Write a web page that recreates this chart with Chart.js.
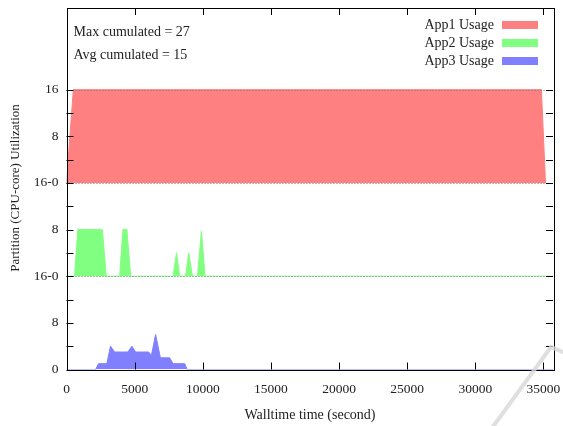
<!DOCTYPE html>
<html>
<head>
<meta charset="utf-8">
<script src="https://cdn.jsdelivr.net/npm/chart.js@4.4.1/dist/chart.umd.min.js"></script>
<style>
html,body{margin:0;padding:0;background:#fff;}
#wrap{width:563px;height:426px;position:relative;}
</style>
</head>
<body>
<div id="wrap"><canvas id="usageChart" width="563" height="426"></canvas></div>
<script>
// walltime (s) / cores used, each app stacked in its own 16-core band
const app1Time=[0, 500, 34850, 35150];
const app1Cores=[0, 16, 16, 0];
const app2Time=[0, 590, 830, 2630, 2920, 3900, 4140, 4430, 4710, 7820, 8070, 8310, 8730, 8970, 9240, 9610, 9900, 10170, 35700];
const app2Cores=[0, 0, 8, 8, 0, 0, 8, 8, 0, 0, 4, 0, 0, 4, 0, 0, 7.7, 0, 0];
const app3Time=[0, 2130, 2350, 2960, 3230, 3530, 4500, 4800, 5070, 6030, 6230, 6540, 6890, 7570, 7820, 8680, 8850, 35700];
const app3Cores=[0, 0, 1, 1, 4, 3, 3, 4, 3, 3, 2.4, 6, 2, 2, 1, 1, 0, 0];

const appLabels=['App1 Usage', 'App2 Usage', 'App3 Usage'];
const appColors=['rgb(255,128,128)', 'rgb(128,255,128)', 'rgb(128,128,255)'];
const bandOffsets=[32, 16, 0];

const xTickValues=[0, 5000, 10000, 15000, 20000, 25000, 30000, 35000];
const yTickValues=[0, 4, 8, 12, 16, 20, 24, 28, 32, 36, 40, 44, 48];
const yTickLabels=['0', '', '8', '', '16-0', '', '8', '', '16-0', '', '8', '', '16'];
const notes=['Max cumulated = 27', 'Avg cumulated = 15'];

const serif='"Liberation Serif", "DejaVu Serif", serif';
const textColor='#222';

function band(times, cores, offset) {
    return times.map((t, i)=> ({x: t, y: cores[i] + offset}));
}

const series=[
    band(app1Time, app1Cores, bandOffsets[0]),
    band(app2Time, app2Cores, bandOffsets[1]),
    band(app3Time, app3Cores, bandOffsets[2])
];

// gnuplot-like frame: inward ticks, dotted band separators, key, notes
const framePlugin={
    id: 'frame',
    afterDatasetsDraw(chart) {
        const c=chart.ctx;
        const a=chart.chartArea;
        const xs=chart.scales.x;
        const ys=chart.scales.y;
        c.save();

        c.strokeStyle='#777';
        c.lineWidth=1;
        c.setLineDash([1, 2]);
        [16, 32, 48].forEach(v=> {
            const y=Math.round(ys.getPixelForValue(v)) + 0.5;
            c.beginPath();
            c.moveTo(a.left, y);
            c.lineTo(a.right, y);
            c.stroke();
        });
        c.setLineDash([]);

        c.strokeStyle='#000';
        c.lineWidth=1;
        c.strokeRect(Math.round(a.left) + 0.5, Math.round(a.top) + 0.5, Math.round(a.right - a.left), Math.round(a.bottom - a.top));
        c.beginPath();
        xTickValues.forEach(v=> {
            const x=Math.round(xs.getPixelForValue(v)) + 0.5;
            c.moveTo(x, a.bottom);
            c.lineTo(x, a.bottom - 7);
            c.moveTo(x, a.top);
            c.lineTo(x, a.top + 7);
        });
        yTickValues.forEach(v=> {
            const y=Math.round(ys.getPixelForValue(v)) + 0.5;
            c.moveTo(a.left, y);
            c.lineTo(a.left + 7, y);
            c.moveTo(a.right, y);
            c.lineTo(a.right - 7, y);
        });
        c.stroke();

        c.fillStyle=textColor;
        c.font='14px ' + serif;
        c.textBaseline='middle';
        c.textAlign='left';
        notes.forEach((t, i)=> c.fillText(t, a.left + 7, 32 + i * 23));

        c.textAlign='right';
        appLabels.forEach((t, i)=> {
            const y=25 + i * 18;
            c.fillStyle=textColor;
            c.fillText(t, 494, y);
            c.fillStyle=appColors[i];
            c.fillRect(502, y - 4, 36, 8);
        });

        c.textAlign='center';
        c.fillStyle=textColor;
        c.fillText('Walltime time (second)', 310, 415);
        c.font='13px ' + serif;
        c.translate(16, 188);
        c.rotate(-Math.PI / 2);
        c.fillText('Partition (CPU-core) Utilization', 0, 0);
        c.restore();

        // faint scan watermark stroke
        c.save();
        c.strokeStyle='rgba(215,215,215,0.8)';
        c.lineWidth=4;
        c.lineCap='round';
        c.beginPath();
        c.moveTo(492, 428);
        c.lineTo(551, 347);
        c.lineTo(565, 353);
        c.stroke();
        c.restore();
    }
};

const ctx=document.getElementById('usageChart').getContext('2d');
const chart=new Chart(ctx, {
    type: 'line',
    data: {
        datasets: series.map((pts, i)=> ({
            label: appLabels[i],
            data: pts,
            borderColor: appColors[i],
            backgroundColor: appColors[i],
            borderWidth: 1,
            pointRadius: 0,
            tension: 0,
            fill: {value: bandOffsets[i]}
        }))
    },
    options: {
        responsive: false,
        animation: false,
        layout: {padding: {left: 4, right: 10, top: 8, bottom: 4}},
        plugins: {
            legend: {display: false},
            tooltip: {enabled: false}
        },
        scales: {
            x: {
                type: 'linear',
                min: 0,
                max: 35700,
                afterBuildTicks: (s)=> { s.ticks=xTickValues.map(v=> ({value: v})); },
                afterFit: (s)=> { s.height=52.5; s.paddingLeft=0; s.paddingRight=0; },
                grid: {display: false, drawTicks: false},
                border: {display: false},
                ticks: {
                    padding: 12,
                    maxRotation: 0,
                    autoSkip: false,
                    color: textColor,
                    font: {family: serif, size: 13.5},
                    callback: (v)=> String(v)
                }
            },
            y: {
                min: 0,
                max: 62,
                afterBuildTicks: (s)=> { s.ticks=yTickValues.map(v=> ({value: v})); },
                afterFit: (s)=> { s.width=62.5; s.paddingTop=0; s.paddingBottom=0; },
                grid: {display: false, drawTicks: false},
                border: {display: false},
                ticks: {
                    padding: 8,
                    autoSkip: false,
                    color: textColor,
                    font: {family: serif, size: 13.5},
                    callback: (v, i)=> yTickLabels[i]
                }
            }
        }
    },
    plugins: [framePlugin]
});
</script>
</body>
</html>
